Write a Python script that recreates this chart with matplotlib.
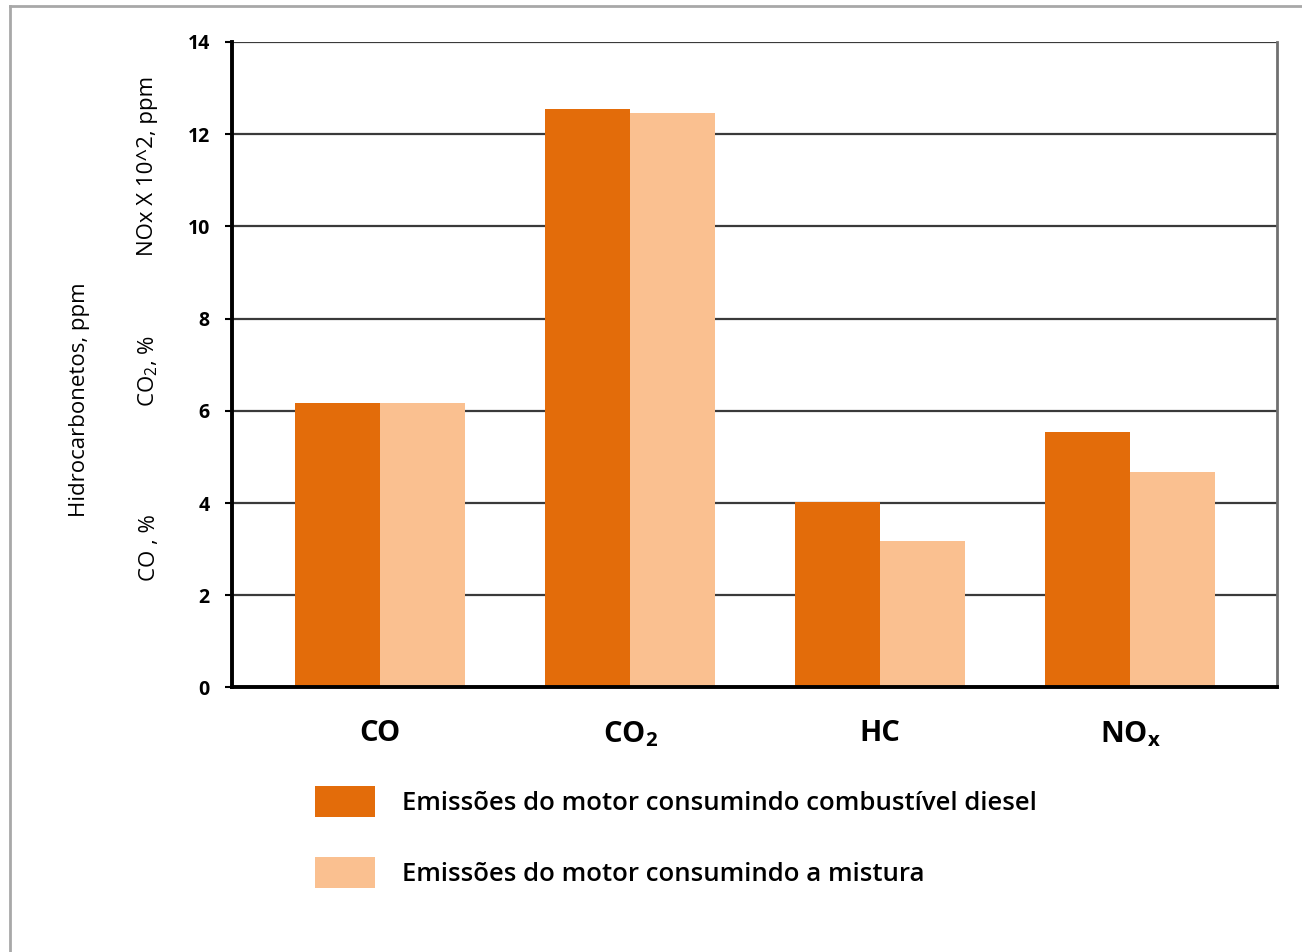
import matplotlib
matplotlib.use("Agg")
import matplotlib.pyplot as plt
import numpy as np
from matplotlib.lines import Line2D

plt.rcParams["font.family"] = ["Open Sans", "DejaVu Sans"]
plt.rcParams["mathtext.fontset"] = "custom"
plt.rcParams["mathtext.rm"] = "Open Sans"
plt.rcParams["mathtext.bf"] = "Open Sans:bold"

# emissions per pollutant (units differ per pollutant, see side labels)
categories = ["CO", r"CO$_\mathbf{2}$", "HC", r"NO$_\mathbf{x}$"]
diesel = [6.18, 12.54, 4.02, 5.54]
mistura = [6.18, 12.47, 3.18, 4.67]
series_labels = ["Emissões do motor consumindo combustível diesel",
                 "Emissões do motor consumindo a mistura"]
yticks = [0, 2, 4, 6, 8, 10, 12, 14]

DARK, LIGHT = "#E36C0A", "#FAC090"

fig = plt.figure(figsize=(13.02, 9.52), dpi=100)
ax = fig.add_axes([0.1782, 0.2779, 0.8026, 0.678])

x = np.arange(len(categories))
w = 0.34
b1 = ax.bar(x - w / 2, diesel, w, color=DARK, label=series_labels[0], zorder=2)
b2 = ax.bar(x + w / 2, mistura, w, color=LIGHT, label=series_labels[1], zorder=2)

ax.set_xlim(-0.592, 3.588)
ax.set_ylim(0, 14)
ax.set_yticks(yticks)
ax.yaxis.grid(True, color="#3a3a3a", lw=1.6, zorder=0)
ax.set_axisbelow(True)
ax.tick_params(axis="y", direction="out", length=5, width=1.5, pad=11,
               labelsize=14)
for t in ax.get_yticklabels():
    t.set_fontweight("bold")
ax.set_xticks(x)
ax.set_xticklabels(categories, fontsize=21, fontweight="bold")
ax.tick_params(axis="x", length=0, pad=23)

ax.spines["top"].set_visible(False)
ax.spines["left"].set_linewidth(2.8)
ax.spines["bottom"].set_linewidth(2.8)
ax.spines["right"].set_color("#707070")
ax.spines["right"].set_linewidth(2)

# stacked unit labels down the left side
side = dict(rotation=90, ha="center", va="center", fontsize=16)
fig.text(80 / 1302, 1 - 400 / 952, "Hidrocarbonetos, ppm", **side)
fig.text(148 / 1302, 1 - 166 / 952, "NOx X 10^2, ppm", **side)
fig.text(148 / 1302, 1 - 371 / 952, r"CO$_2$, %", **side)
fig.text(150 / 1302, 1 - 548 / 952, "CO , %", **side)

fs = 18.5
px = fs * 100 / 72
fig.legend(handles=[b1, b2], loc="upper left",
           bbox_to_anchor=(315 / 1302, 1 - 786 / 952), frameon=False,
           prop={"weight": "semibold", "size": fs},
           borderpad=0, borderaxespad=0,
           handlelength=60 / px, handleheight=38 / px,
           handletextpad=1.05, labelspacing=1.55)

# thin frame on the left and top edges
fig.add_artist(Line2D([10 / 1302, 10 / 1302], [0, 1 - 6 / 952],
                      transform=fig.transFigure, color="#a8a8a8", lw=2))
fig.add_artist(Line2D([10 / 1302, 1], [1 - 6 / 952, 1 - 6 / 952],
                      transform=fig.transFigure, color="#a8a8a8", lw=2))

fig.savefig("out.png", dpi=100)
